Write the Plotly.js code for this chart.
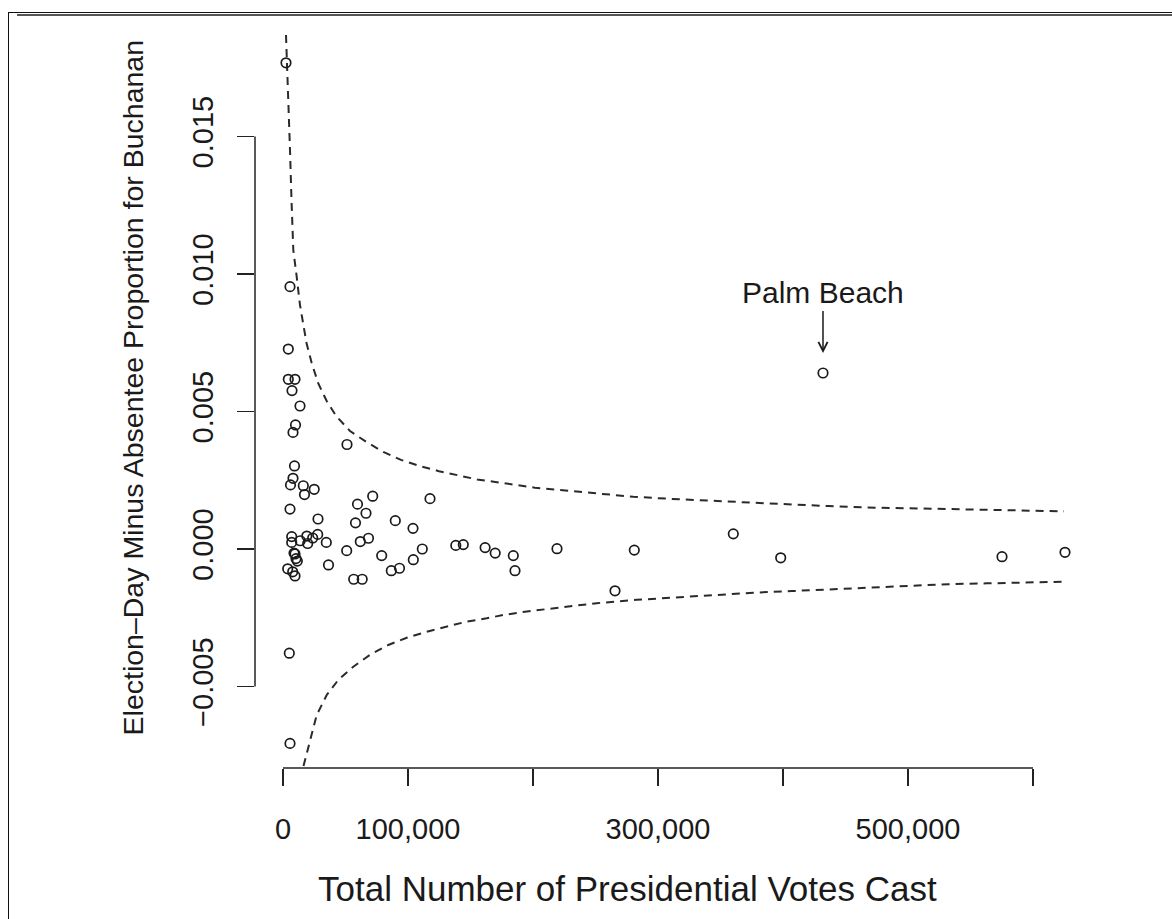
<!DOCTYPE html>
<html>
<head>
<meta charset="utf-8">
<script src="https://cdn.plot.ly/plotly-3.0.1.min.js"></script>
<style>
  html, body { margin: 0; padding: 0; background: #fff; }
  #wrap { position: relative; width: 1172px; height: 919px; overflow: hidden; }
  #chart { position: absolute; left: 0; top: 0; width: 1172px; height: 919px; }
  .frame { position: absolute; pointer-events: none; }
</style>
</head>
<body>
<div id="wrap">
  <div id="chart"></div>
  <div class="frame" style="left:8px; top:12px; width:1px; height:907px; background:#111;"></div>
  <div class="frame" style="left:8px; top:12px; right:0; height:1px; background:#111;"></div>
  <div class="frame" style="left:17px; top:14px; right:0; height:2px; background:#555;"></div>
</div>
<script>
// Total presidential votes cast per county
const countyVotes = [
  2400, 5600, 4240, 4240, 9600, 7200, 13600, 10000, 8000, 51200,
  9200, 8000, 6000, 16240, 24960, 17200, 71760, 117600, 59600, 66400,
  5600, 28000, 58000, 89840, 104000, 6960, 6960, 13760, 19040, 19760,
  23760, 27760, 34640, 61840, 68400, 50960, 78960, 111440, 138240, 144240,
  161680, 169760, 184240, 185600, 9600, 10400, 11440, 3760, 7760, 9600,
  36400, 56560, 63360, 86640, 93200, 104240, 219200, 281040, 265600, 360240,
  398160, 432000, 575200, 625600, 5040, 5600, 8800
];
// Election-day minus absentee proportion for Buchanan
const voteDiff = [
  0.01768, 0.00954, 0.00727, 0.00617, 0.00617, 0.00576, 0.00520, 0.00451, 0.00424, 0.00380,
  0.00302, 0.00257, 0.00233, 0.00230, 0.00217, 0.00198, 0.00192, 0.00183, 0.00163, 0.00130,
  0.00145, 0.00109, 0.00095, 0.00103, 0.00075, 0.00045, 0.00024, 0.00030, 0.00047, 0.00020,
  0.00040, 0.00053, 0.00024, 0.00027, 0.00039, -0.00006, -0.00024, 0.00000, 0.00013, 0.00016,
  0.00005, -0.00015, -0.00024, -0.00079, -0.00018, -0.00035, -0.00044, -0.00072, -0.00083, -0.00098,
  -0.00058, -0.00110, -0.00110, -0.00079, -0.00070, -0.00039, 0.00001, -0.00004, -0.00152, 0.00055,
  -0.00032, 0.00640, -0.00028, -0.00012, -0.00379, -0.00707, -0.00015
];
const palmBeachIndex = 61;

// Upper dashed bound
const upperX = [
  2400, 3200, 4000, 4800, 5600, 6800, 8240, 10800, 13600, 18800,
  22960, 28240, 34960, 42960, 53600, 66400, 80240, 94400, 109600, 124800,
  140400, 155200, 171200, 186400, 201600, 217600, 248240, 280240, 310960, 341600,
  373600, 404240, 436240, 466960, 514960, 545600, 576240, 608240, 624800
];
const upperY = [
  0.01869, 0.01778, 0.01669, 0.01542, 0.01451, 0.01269, 0.01087, 0.00996, 0.00887, 0.00749,
  0.00676, 0.00602, 0.00538, 0.00481, 0.00429, 0.00390, 0.00353, 0.00324, 0.00301, 0.00283,
  0.00267, 0.00253, 0.00243, 0.00232, 0.00223, 0.00216, 0.00203, 0.00190, 0.00182, 0.00175,
  0.00168, 0.00161, 0.00156, 0.00151, 0.00147, 0.00144, 0.00142, 0.00138, 0.00137
];
// Lower dashed bound
const lowerX = [
  16400, 17600, 21600, 26960, 34960, 44240, 56240, 69600, 84240, 98960,
  114960, 130960, 146960, 162960, 176240, 193600, 209600, 226960, 250960, 282960,
  313600, 344240, 376240, 406960, 437600, 469600, 500240, 532240, 562960, 594960,
  624240
];
const lowerY = [
  -0.00789, -0.00767, -0.00695, -0.00604, -0.00531, -0.00476, -0.00428, -0.00385, -0.00349, -0.00323,
  -0.00301, -0.00283, -0.00264, -0.00252, -0.00240, -0.00228, -0.00219, -0.00210, -0.00197, -0.00185,
  -0.00176, -0.00166, -0.00159, -0.00153, -0.00147, -0.00139, -0.00135, -0.00128, -0.00125, -0.00121,
  -0.00119
];

// Tick labels
const xTickVals = [0, 100000, 200000, 300000, 400000, 500000, 600000];
const xTickText = ['0', '100,000', '', '300,000', '', '500,000', ''];
const yTickVals = [-0.005, 0, 0.005, 0.010, 0.015];
const yTickText = ['\u22120.005', '0.000', '0.005', '0.010', '0.015'];

const xTitle = 'Total Number of Presidential Votes Cast';
const yTitle = 'Election\u2013Day Minus Absentee Proportion for Buchanan';

const FONT = 'Liberation Sans, Arial, Helvetica, sans-serif';
const INK = '#1a1a1a';

const traces = [
  {
    x: upperX, y: upperY, type: 'scatter', mode: 'lines',
    line: { color: '#2a2a2a', width: 2, dash: '8px,6px' },
    hoverinfo: 'skip', showlegend: false
  },
  {
    x: lowerX, y: lowerY, type: 'scatter', mode: 'lines',
    line: { color: '#2a2a2a', width: 2, dash: '8px,6px' },
    hoverinfo: 'skip', showlegend: false
  },
  {
    x: countyVotes, y: voteDiff, type: 'scatter', mode: 'markers',
    marker: { symbol: 'circle-open', size: 9.5, color: INK, line: { width: 1.7, color: INK } },
    showlegend: false
  }
];

const layout = {
  width: 1172, height: 919,
  margin: { l: 255, r: 92, t: 28, b: 151 },
  paper_bgcolor: '#fff', plot_bgcolor: '#fff',
  showlegend: false,
  font: { family: FONT, color: INK },
  xaxis: {
    range: [-22400, 637600],
    showgrid: false, zeroline: false, showline: false,
    ticks: 'outside', ticklen: 17, tickwidth: 1.5, tickcolor: '#222',
    tickmode: 'array', tickvals: xTickVals, ticktext: xTickText,
    tickfont: { family: FONT, size: 29, color: INK },
    ticklabelstandoff: 18
  },
  yaxis: {
    range: [-0.007964, 0.018945],
    showgrid: false, zeroline: false, showline: false,
    ticks: 'outside', ticklen: 17, tickwidth: 1.5, tickcolor: '#222',
    tickmode: 'array', tickvals: yTickVals, ticktext: yTickText,
    tickangle: -90,
    tickfont: { family: FONT, size: 29, color: INK },
    ticklabelstandoff: 12
  },
  shapes: [
    { type: 'line', xref: 'x', yref: 'paper', x0: xTickVals[0], x1: xTickVals[xTickVals.length - 1], y0: 0, y1: 0,
      line: { color: '#222', width: 1.5 } },
    { type: 'line', xref: 'paper', yref: 'y', x0: 0, x1: 0, y0: yTickVals[0], y1: yTickVals[yTickVals.length - 1],
      line: { color: '#222', width: 1.5 } }
  ],
  annotations: [
    {
      x: countyVotes[palmBeachIndex], y: voteDiff[palmBeachIndex], xref: 'x', yref: 'y',
      text: 'Palm Beach', showarrow: true, arrowhead: 5, arrowsize: 1.2, arrowwidth: 1.5, arrowcolor: INK,
      ax: 0, ay: -80, standoff: 20,
      font: { family: FONT, size: 30, color: INK }
    },
    {
      xref: 'paper', yref: 'paper', x: 0.452, y: -0.1635, xanchor: 'center', yanchor: 'middle',
      text: xTitle, showarrow: false,
      font: { family: FONT, size: 35, color: INK }
    },
    {
      xref: 'paper', yref: 'paper', x: -0.1467, y: 0.5142, xanchor: 'center', yanchor: 'middle',
      text: yTitle, showarrow: false, textangle: -90,
      font: { family: FONT, size: 28.5, color: INK }
    }
  ]
};

Plotly.newPlot('chart', traces, layout, { staticPlot: true, displayModeBar: false });
</script>
</body>
</html>
